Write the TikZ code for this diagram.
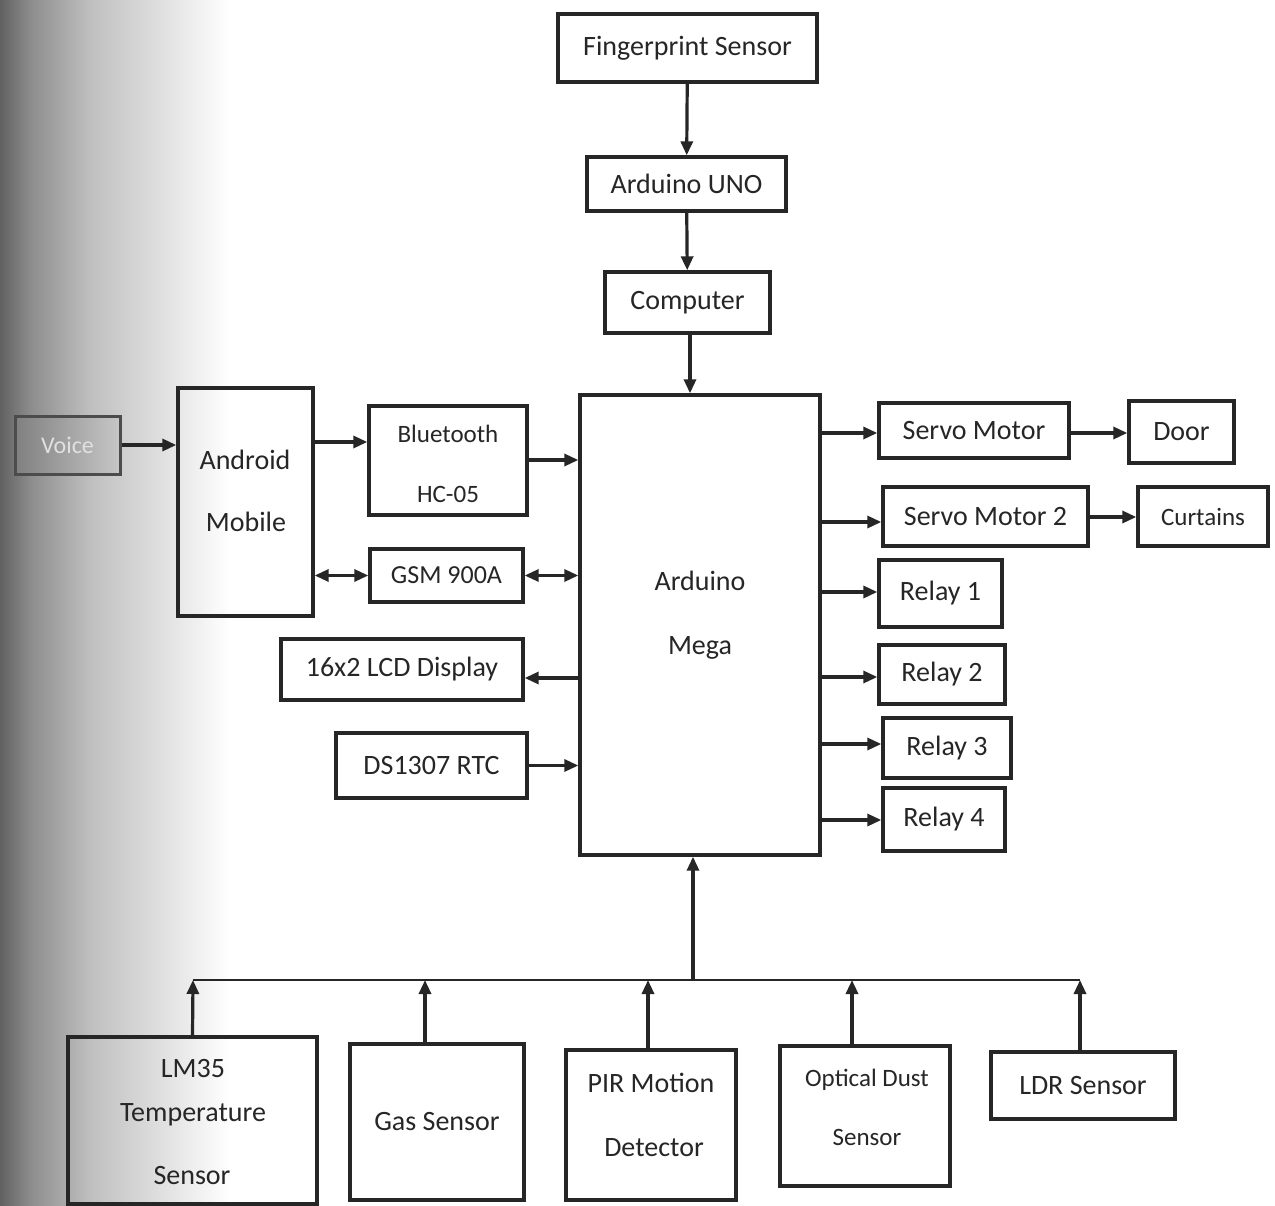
\documentclass[tikz,border=0pt]{standalone}
\usepackage{fontspec}
\setmainfont{Carlito}
\usetikzlibrary{arrows.meta}
\begin{document}
\begin{tikzpicture}[x=1pt,y=-1pt,
  box/.style={draw=black!85, line width=3.4pt, align=center, inner sep=0pt, font=\fontsize{28}{33}\selectfont, text=black!85},
  txt/.style={inner sep=0pt, font=\fontsize{28}{33}\selectfont, text=black!85, text height=20pt, text depth=2pt},
  stxt/.style={inner sep=0pt, font=\fontsize{25}{30}\selectfont, text=black!85, text height=18pt, text depth=2pt},
  arr/.style={draw=black!85, line width=3.2pt, -{Triangle[length=14pt,width=12pt]}},
  darr/.style={draw=black!85, line width=3.2pt, {Triangle[length=14pt,width=12pt]}-{Triangle[length=14pt,width=12pt]}},
  ln/.style={draw=black!85, line width=2.4pt}]
\useasboundingbox (0,0) rectangle (1275,1206);
\fill[white] (0,0) rectangle (1275,1206);
% scan shading on left edge
\shade[left color=black!62, right color=black!45] (0,0) rectangle (30,1206);
\shade[left color=black!45, right color=black!25] (30,0) rectangle (90,1206);
\shade[left color=black!25, right color=white] (90,0) rectangle (230,1206);

% top chain
\node[box, minimum width=259, minimum height=68] (fp) at (687.5,48) {Fingerprint Sensor};
\node[box, minimum width=199, minimum height=54] (uno) at (686.5,184) {Arduino UNO};
\node[box, minimum width=165, minimum height=61] (comp) at (687.5,302.5) {Computer};
\node[box, minimum width=240, minimum height=460] (mega) at (700,625) {};
\node[txt] (megaA) at (700,581) {Arduino};
\node[txt] (megaB) at (700,645) {Mega};

% left side
\node[draw=black!70, line width=3pt, minimum width=105, minimum height=58, inner sep=0pt, left color=black!50, right color=black!22, text=black!12, font=\fontsize{24}{28}\selectfont] (voice) at (67.5,445) {Voice};
\node[box, minimum width=135, minimum height=228] (android) at (245.5,502) {};
\node[txt] (andA) at (245,460) {Android};
\node[txt] (andB) at (246,522) {Mobile};
\node[box, minimum width=158, minimum height=109] (bt) at (448,460.5) {};
\node[stxt] (btA) at (448,434) {Bluetooth};
\node[stxt] (btB) at (448,494) {HC-05};
\node[box, minimum width=153, minimum height=53, font=\fontsize{26}{31}\selectfont] (gsm) at (446.5,575.5) {GSM 900A};
\node[box, minimum width=242, minimum height=61] (lcd) at (402,669.5) {16x2 LCD Display};
\node[box, minimum width=191, minimum height=65] (rtc) at (431.5,765.5) {DS1307 RTC};

% right side
\node[box, minimum width=190, minimum height=55] (servo) at (974,430.5) {Servo Motor};
\node[box, minimum width=105, minimum height=62] (door) at (1181.5,432) {Door};
\node[box, minimum width=205, minimum height=59] (servob) at (985.5,516.5) {Servo Motor 2};
\node[box, minimum width=130, minimum height=59, font=\fontsize{25}{30}\selectfont] (curt) at (1203,516.5) {Curtains};
\node[box, minimum width=123, minimum height=67] (r1) at (940.5,593.5) {Relay 1};
\node[box, minimum width=126, minimum height=59] (r2) at (942,674.5) {Relay 2};
\node[box, minimum width=128, minimum height=60] (r3) at (947,748) {Relay 3};
\node[box, minimum width=122, minimum height=63] (r4) at (944,819.5) {Relay 4};

% bottom sensors
\node[box, minimum width=249, minimum height=167] (lm35) at (192.5,1120.5) {};
\node[txt] (lmA) at (193,1068) {LM35};
\node[txt] (lmB) at (193,1112) {Temperature};
\node[txt] (lmC) at (192,1175) {Sensor};
\node[box, minimum width=174, minimum height=156] (gas) at (437,1122) {Gas Sensor};
\node[box, minimum width=170, minimum height=150] (pir) at (651,1125) {};
\node[txt] (pirA) at (651,1083) {PIR Motion};
\node[txt] (pirB) at (654,1147) {Detector};
\node[box, minimum width=170, minimum height=140] (dust) at (865,1116) {};
\node[stxt] (dustA) at (867,1078) {Optical Dust};
\node[stxt] (dustB) at (867,1137) {Sensor};
\node[box, minimum width=184, minimum height=67] (ldr) at (1083,1085.5) {LDR Sensor};

% top chain arrows
\draw[arr] (fp) -- (uno);
\draw[arr] (uno) -- (comp);
\draw[arr] (comp.south -| 690,0) -- (mega.north -| 690,0);

% left arrows
\draw[arr] (voice) -- (android.west |- voice);
\draw[arr] (android.east |- 0,442) -- (bt.west |- 0,442);
\draw[arr] (bt.east |- 0,460) -- (mega.west |- 0,460);
\draw[darr] (android.east |- gsm) -- (gsm.west);
\draw[darr] (gsm.east) -- (mega.west |- gsm);
\draw[arr] (mega.west |- 0,678) -- (lcd.east |- 0,678);
\draw[arr] (rtc.east) -- (mega.west |- rtc);

% right arrows
\draw[arr] (mega.east |- 0,433) -- (servo.west |- 0,433);
\draw[arr] (servo.east |- 0,433) -- (door.west |- 0,433);
\draw[arr] (mega.east |- 0,522) -- (servob.west |- 0,522);
\draw[arr] (servob.east |- 0,517) -- (curt.west |- 0,517);
\draw[arr] (mega.east |- 0,592) -- (r1.west |- 0,592);
\draw[arr] (mega.east |- 0,677) -- (r2.west |- 0,677);
\draw[arr] (mega.east |- 0,744) -- (r3.west |- 0,744);
\draw[arr] (mega.east |- 0,820) -- (r4.west |- 0,820);

% bottom bus
\coordinate (bus) at (693,980);
\coordinate (busL) at (193,980);
\coordinate (busR) at (1080,980);
\draw[ln] (busL) -- (busR);
\draw[arr] (bus) -- (mega.south -| bus);
\draw[arr] (lm35.north) -- (busL);
\draw[arr] (gas.north -| 425,0) -- (425,980);
\draw[arr] (pir.north -| 648,0) -- (648,980);
\draw[arr] (dust.north -| 852,0) -- (852,980);
\draw[arr] (ldr.north -| busR) -- (busR);
\end{tikzpicture}
\end{document}
